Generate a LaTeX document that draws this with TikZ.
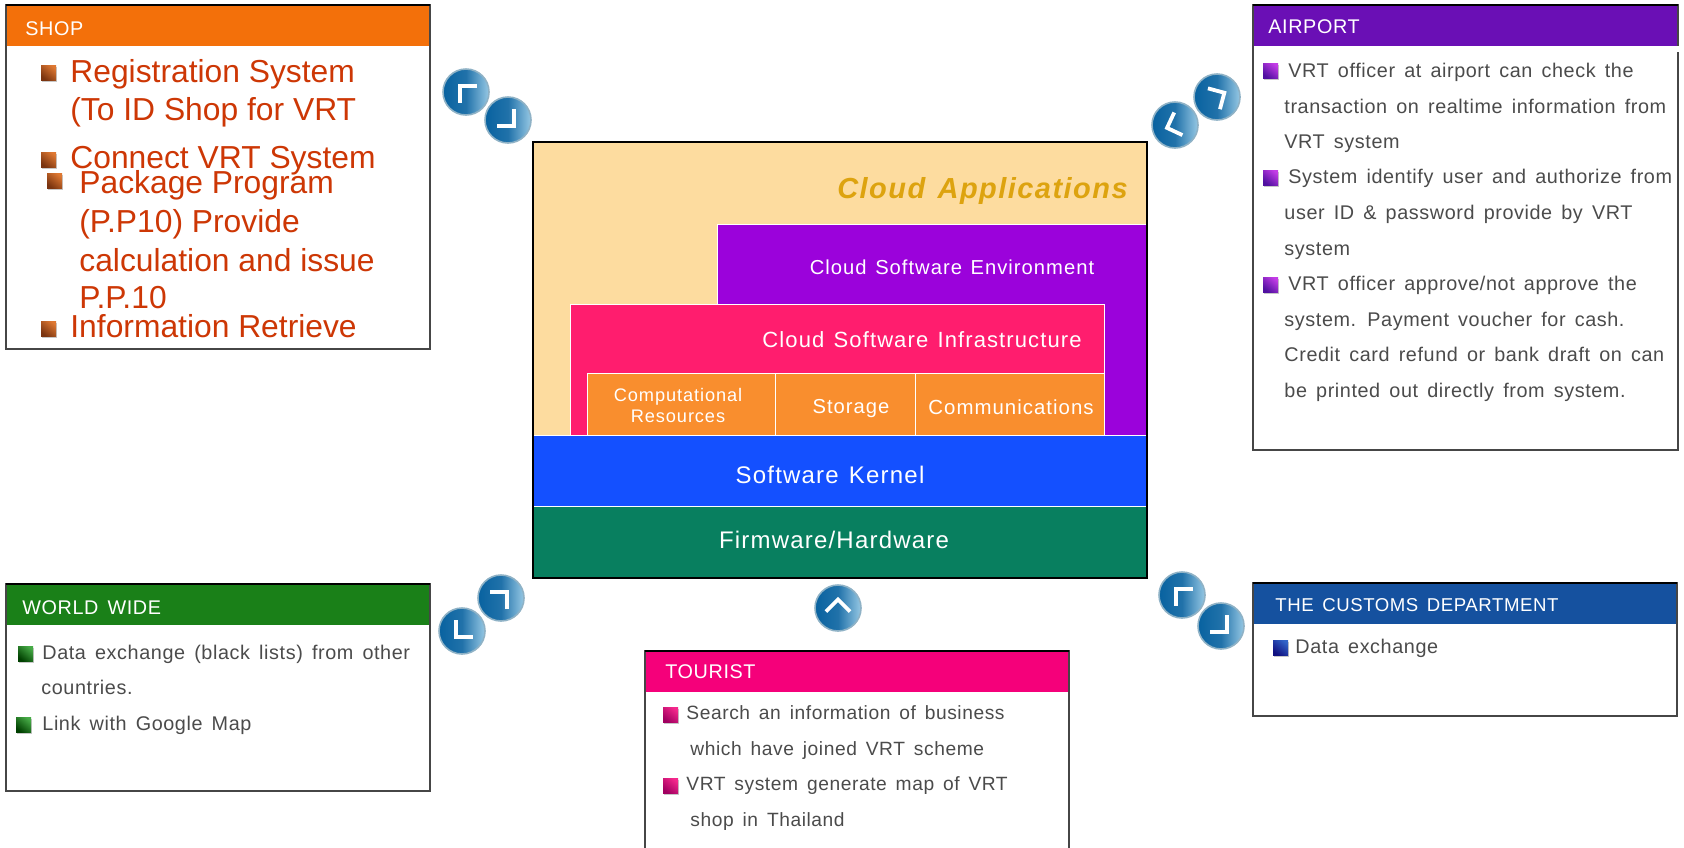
\documentclass[tikz,border=0pt]{standalone}
\usepackage{fontspec}
\setmainfont{Liberation Sans}
\newfontfamily\panelfont[LetterSpace=3,WordSpace=1.5]{Liberation Sans}
\newfontfamily\stackfont[LetterSpace=5,WordSpace=1.3]{Liberation Sans}
\usetikzlibrary{calc, positioning}
\definecolor{shophead}{RGB}{243,112,10}
\definecolor{airporthead}{RGB}{106,15,181}
\definecolor{worldhead}{RGB}{26,128,24}
\definecolor{touristhead}{RGB}{245,0,122}
\definecolor{customshead}{RGB}{21,81,159}
\definecolor{shoptext}{RGB}{205,55,5}
\definecolor{paneltext}{RGB}{75,75,75}
\definecolor{panelline}{RGB}{70,70,70}
\definecolor{cream}{RGB}{253,220,159}
\definecolor{appgold}{RGB}{221,163,15}
\definecolor{envpurple}{RGB}{155,2,219}
\definecolor{infrapink}{RGB}{255,29,110}
\definecolor{resorange}{RGB}{249,142,46}
\definecolor{kernelblue}{RGB}{20,80,255}
\definecolor{hwgreen}{RGB}{8,127,95}
\definecolor{btndark}{RGB}{8,98,160}
\definecolor{btnlight}{RGB}{150,200,228}
\definecolor{shopbulA}{RGB}{222,120,50}
\definecolor{shopbulB}{RGB}{122,52,16}
\definecolor{airbulA}{RGB}{195,60,230}
\definecolor{airbulB}{RGB}{80,16,160}
\definecolor{worbulA}{RGB}{70,170,70}
\definecolor{worbulB}{RGB}{0,64,0}
\definecolor{toubulA}{RGB}{245,40,140}
\definecolor{toubulB}{RGB}{160,0,96}
\definecolor{cusbulA}{RGB}{50,100,200}
\definecolor{cusbulB}{RGB}{16,16,128}
\tikzset{
	headlabel/.style={anchor=base west, text=white, inner sep=0pt, font=\panelfont\fontsize{9.9}{11}\selectfont},
	bodylabel/.style={anchor=base west, text=paneltext, inner sep=0pt, font=\panelfont\fontsize{9.9}{11}\selectfont},
	tourlabel/.style={bodylabel, font=\panelfont\fontsize{9.6}{11}\selectfont},
	shoplabel/.style={anchor=base west, text=shoptext, inner sep=0pt, font=\fontsize{15.9}{18}\selectfont},
	stacklabel/.style={anchor=base, text=white, inner sep=0pt, font=\stackfont\fontsize{#1}{13}\selectfont},
	stackblock/.style={fill=#1, draw=white, line width=0.5pt}
}
\newcommand\vrtpanel[9]{\fill[white] (#1,#2) rectangle (#3,#4);\fill[#5] (#1,#2) rectangle (#3,#2+41);\draw[panelline, line width=1pt] (#1,#2) rectangle (#3,#4);\draw[black, line width=1pt] (#1,#2) -- (#3,#2);\node[headlabel] (#6) at (#7,#8) {#9};}
\newcommand\vrtbutton[3]{\shade[left color=btndark, right color=btnlight, middle color=btndark!90!white, draw=btnlight!70!gray, line width=0.8pt] (#1,#2) circle (23);\draw[white, line width=1.9pt, shift={(#1,#2)}, rotate=#3] (11,-6) -- (-6,-6) -- (-6,11);}
\newcommand\vrtbullet[4]{\fill[black!22] (#1+1,#2+2) rectangle (#1+16,#2+17);\shade[top color=#3, bottom color=#4, shading angle=-40] (#1,#2) rectangle (#1+15,#2+15);}

\begin{document}
\begin{tikzpicture}[x=0.5pt,y=-0.5pt]
	\useasboundingbox (0,0) rectangle (1684,847);
	\clip (0,0) rectangle (1684,847);

	\vrtpanel{6}{5}{430}{349}{shophead}{shop}{25}{35}{SHOP}
	\vrtbullet{41}{65}{shopbulA}{shopbulB}
	\vrtbullet{41}{152}{shopbulA}{shopbulB}
	\vrtbullet{47}{173}{shopbulA}{shopbulB}
	\vrtbullet{41}{321}{shopbulA}{shopbulB}
	\node[shoplabel] (reg1) at (70,82) {Registration System};
	\node[shoplabel] (reg2) at (70,120) {(To ID Shop for VRT};
	\node[shoplabel] (conn) at (70,168) {Connect VRT System};
	\node[shoplabel] (pack1) at (79,193) {Package Program};
	\node[shoplabel] (pack2) at (79,232) {(P.P10) Provide};
	\node[shoplabel] (pack3) at (79,271) {calculation and issue};
	\node[shoplabel] (pack4) at (79,308) {P.P.10};
	\node[shoplabel] (info) at (70,337) {Information Retrieve};
	\vrtbutton{466}{92}{0}
	\vrtbutton{508}{120}{180}

	\vrtpanel{1253}{5}{1678}{450}{airporthead}{airport}{1268}{33}{AIRPORT}
	\fill[white] (1676,46) rectangle (1680,52);
	\vrtbullet{1263}{63}{airbulA}{airbulB}
	\vrtbullet{1263}{170}{airbulA}{airbulB}
	\vrtbullet{1263}{277}{airbulA}{airbulB}
	\node[bodylabel] (air1) at (1288,77) {VRT officer at airport can check the};
	\node[bodylabel] (air2) at (1284,113) {transaction on realtime information from};
	\node[bodylabel] (air3) at (1284,148) {VRT system};
	\node[bodylabel] (air4) at (1288,183) {System identify user and authorize from};
	\node[bodylabel] (air5) at (1284,219) {user ID \& password provide by VRT};
	\node[bodylabel] (air6) at (1284,255) {system};
	\node[bodylabel] (air7) at (1288,290) {VRT officer approve/not approve the};
	\node[bodylabel] (air8) at (1284,326) {system. Payment voucher for cash.};
	\node[bodylabel] (air9) at (1284,361) {Credit card refund or bank draft on can};
	\node[bodylabel] (air10) at (1284,397) {be printed out directly from system.};
	\vrtbutton{1217}{97}{-105}
	\vrtbutton{1175}{125}{65}

	\fill[cream] (533,142) rectangle (1147,578);
	\fill[envpurple] (717,224) rectangle (1147,435);
	\draw[white, line width=0.5pt] (1147,224) -- (717,224) -- (717,304);
	\draw[stackblock=infrapink] (570,304) rectangle (1104,435);
	\draw[stackblock=resorange] (587,373) rectangle (775,435);
	\draw[stackblock=resorange] (775,373) rectangle (915,435);
	\draw[stackblock=resorange] (915,373) rectangle (1104,435);
	\draw[stackblock=kernelblue] (533,435) rectangle (1147,506);
	\draw[stackblock=hwgreen] (533,506) rectangle (1147,578);
	\draw[black, line width=1pt] (533,142) rectangle (1147,578);
	\node[anchor=base east, inner sep=0pt, text=appgold, font=\stackfont\bfseries\itshape\fontsize{14.5}{16}\selectfont] (apps) at (1128,198) {Cloud Applications};
	\node[stacklabel=10.1] (env) at (952,274) {Cloud Software Environment};
	\node[stacklabel=11] (infra) at (922,347) {Cloud Software Infrastructure};
	\node[stacklabel=9.1] (comp1) at (678,401) {Computational};
	\node[stacklabel=9.1] (comp2) at (678,422) {Resources};
	\node[stacklabel=10.1] (stor) at (851,413) {Storage};
	\node[stacklabel=10.2] (comm) at (1011,414) {Communications};
	\node[stacklabel=12] (kern) at (830,483) {Software Kernel};
	\node[stacklabel=12] (firm) at (834,548) {Firmware/Hardware};

	\vrtpanel{6}{584}{430}{791}{worldhead}{world}{22}{614}{WORLD WIDE}
	\vrtbullet{18}{646}{worbulA}{worbulB}
	\vrtbullet{16}{717}{worbulA}{worbulB}
	\node[bodylabel] (wor1) at (42,659) {Data exchange (black lists) from other};
	\node[bodylabel] (wor2) at (41,694) {countries.};
	\node[bodylabel] (wor3) at (42,730) {Link with Google Map};
	\vrtbutton{501}{598}{-90}
	\vrtbutton{462}{631}{90}

	\vrtbutton{838}{608}{-45}

	\vrtpanel{645}{651}{1069}{860}{touristhead}{tourist}{665}{678}{TOURIST}
	\vrtbullet{663}{707}{toubulA}{toubulB}
	\vrtbullet{663}{778}{toubulA}{toubulB}
	\node[tourlabel] (tou1) at (686,719) {Search an information of business};
	\node[tourlabel] (tou2) at (690,755) {which have joined VRT scheme};
	\node[tourlabel] (tou3) at (686,790) {VRT system generate map of VRT};
	\node[tourlabel] (tou4) at (690,826) {shop in Thailand};

	\vrtpanel{1253}{583}{1677}{716}{customshead}{customs}{1275}{611}{\fontsize{9.3}{11}\selectfont THE CUSTOMS DEPARTMENT}
	\vrtbullet{1273}{640}{cusbulA}{cusbulB}
	\node[bodylabel] (cus1) at (1295,653) {Data exchange};
	\vrtbutton{1182}{595}{0}
	\vrtbutton{1221}{626}{180}
\end{tikzpicture}
\end{document}
